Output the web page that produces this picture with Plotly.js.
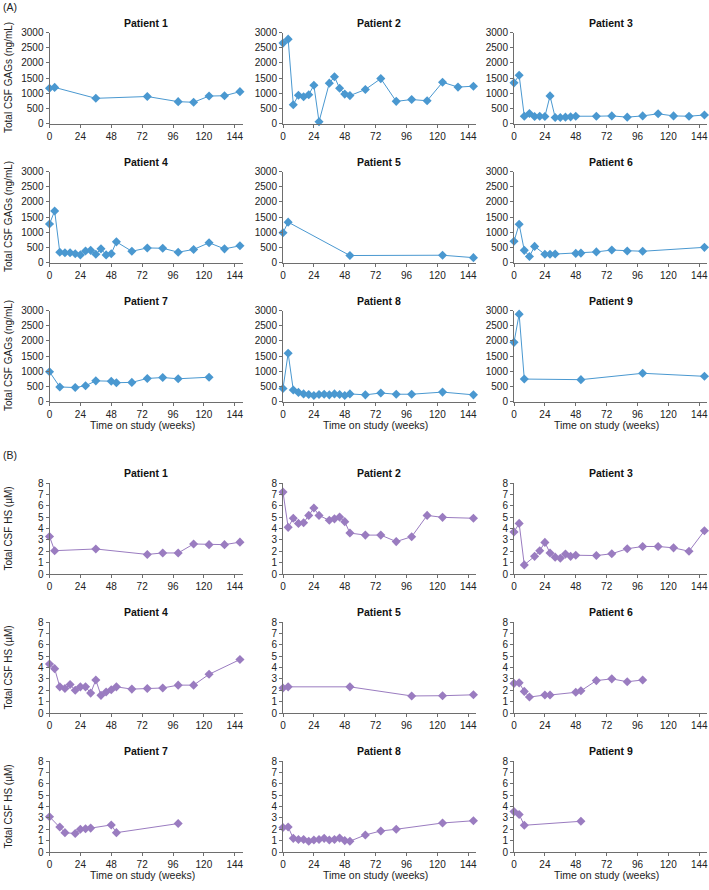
<!DOCTYPE html>
<html>
<head>
<meta charset="utf-8">
<script src="https://cdn.plot.ly/plotly-3.0.1.min.js"></script>
<style>html,body{margin:0;padding:0;background:#fff;}#chart{width:709px;height:890px;}</style>
</head>
<body>
<div id="chart"></div>
<script>
// ---------- DATA ----------
const patientNames = ["Patient 1","Patient 2","Patient 3","Patient 4","Patient 5","Patient 6","Patient 7","Patient 8","Patient 9"];
const weekTicks = [0,24,48,72,96,120,144];
const gagTicks = [0,500,1000,1500,2000,2500,3000];
const hsTicks = [0,1,2,3,4,5,6,7,8];

// (A) Total CSF GAGs (ng/mL)
const gagP1Weeks = [0,4,36,76,100,112,124,136,148];
const gagP1 = [1160,1190,830,890,720,700,905,915,1050];
const gagP2Weeks = [0,4,8,12,16,20,24,28,36,40,44,48,52,64,76,88,100,112,124,136,148];
const gagP2 = [2650,2780,620,930,880,950,1260,60,1330,1540,1160,970,920,1120,1480,730,790,750,1360,1200,1230];
const gagP3Weeks = [0,4,8,12,16,20,24,28,32,36,40,44,48,64,76,88,100,112,124,136,148];
const gagP3 = [1340,1590,240,330,230,240,230,910,200,200,210,220,240,240,250,210,250,320,250,240,280];
const gagP4Weeks = [0,4,8,12,16,20,24,28,32,36,40,44,48,52,64,76,88,100,112,124,136,148];
const gagP4 = [1270,1700,340,320,320,290,250,380,400,270,450,250,290,680,370,480,470,340,430,650,450,550];
const gagP5Weeks = [0,4,52,124,148];
const gagP5 = [980,1330,230,240,160];
const gagP6Weeks = [0,4,8,12,16,24,28,32,48,52,64,76,88,100,148];
const gagP6 = [700,1260,400,200,530,270,270,280,300,310,350,410,380,370,500];
const gagP7Weeks = [0,8,20,28,36,48,52,64,76,88,100,124];
const gagP7 = [980,480,460,520,680,670,620,630,760,790,750,800];
const gagP8Weeks = [0,4,8,12,16,20,24,28,32,36,40,44,48,52,64,76,88,100,124,148];
const gagP8 = [430,1590,380,300,250,230,200,230,240,220,250,230,200,250,220,280,240,240,310,220];
const gagP9Weeks = [0,4,8,52,100,148];
const gagP9 = [1950,2880,740,720,930,830];

// (B) Total CSF HS (µM)
const hsP1Weeks = [0,4,36,76,88,100,112,124,136,148];
const hsP1 = [3.3,2.05,2.2,1.72,1.85,1.85,2.64,2.58,2.58,2.8];
const hsP2Weeks = [0,4,8,12,16,20,24,28,36,40,44,48,52,64,76,88,100,112,124,148];
const hsP2 = [7.2,4.1,4.9,4.45,4.5,5.15,5.8,5.15,4.72,4.85,5.0,4.6,3.6,3.42,3.42,2.85,3.28,5.15,4.98,4.9];
const hsP3Weeks = [0,4,8,16,20,24,28,32,36,40,44,48,64,76,88,100,112,124,136,148];
const hsP3 = [3.7,4.45,0.8,1.55,2.05,2.78,1.85,1.48,1.38,1.75,1.55,1.65,1.62,1.78,2.22,2.42,2.42,2.3,2.0,3.8];
const hsP4Weeks = [0,4,8,12,16,20,24,28,32,36,40,44,48,52,64,76,88,100,112,124,148];
const hsP4 = [4.3,3.9,2.3,2.15,2.5,2.0,2.3,2.3,1.75,2.9,1.55,1.85,2.05,2.3,2.1,2.15,2.2,2.45,2.45,3.4,4.7];
const hsP5Weeks = [0,4,52,100,124,148];
const hsP5 = [2.2,2.3,2.3,1.5,1.52,1.6];
const hsP6Weeks = [0,4,8,12,24,28,48,52,64,76,88,100];
const hsP6 = [2.6,2.65,1.9,1.4,1.58,1.58,1.82,1.95,2.85,3.0,2.75,2.9];
const hsP7Weeks = [0,8,12,20,24,28,32,48,52,100];
const hsP7 = [3.1,2.2,1.7,1.62,2.0,2.05,2.1,2.38,1.7,2.5];
const hsP8Weeks = [0,4,8,12,16,20,24,28,32,36,40,44,48,52,64,76,88,124,148];
const hsP8 = [2.15,2.2,1.2,1.1,1.1,0.95,1.05,1.1,1.2,1.05,1.1,1.22,1.0,0.95,1.5,1.85,2.0,2.55,2.75];
const hsP9Weeks = [0,4,8,52];
const hsP9 = [3.55,3.3,2.35,2.7];

const gagWeekSets = [gagP1Weeks,gagP2Weeks,gagP3Weeks,gagP4Weeks,gagP5Weeks,gagP6Weeks,gagP7Weeks,gagP8Weeks,gagP9Weeks];
const gagSets = [gagP1,gagP2,gagP3,gagP4,gagP5,gagP6,gagP7,gagP8,gagP9];
const hsWeekSets = [hsP1Weeks,hsP2Weeks,hsP3Weeks,hsP4Weeks,hsP5Weeks,hsP6Weeks,hsP7Weeks,hsP8Weeks,hsP9Weeks];
const hsSets = [hsP1,hsP2,hsP3,hsP4,hsP5,hsP6,hsP7,hsP8,hsP9];

// ---------- LAYOUT ----------
const W = 709, H = 890;
const colLeft = [49.5, 283, 514];
const plotW = 193;
const plotH = 91;
const xMax = 150;
const rowBottom = [[123.5, 262.5, 401.5], [574, 713, 852]];
const FONT = "Liberation Sans, Arial, Helvetica, sans-serif";
const blue = "#4a98d0";
const purple = "#9a7cc0";

const sections = [
  {weeks: gagWeekSets, vals: gagSets, ticks: gagTicks, range: [0,3000], color: blue, ytitle: "Total CSF GAGs (ng/mL)", label: "(A)"},
  {weeks: hsWeekSets, vals: hsSets, ticks: hsTicks, range: [0,8], color: purple, ytitle: "Total CSF HS (\u00b5M)", label: "(B)"}
];

const traces = [];
const layout = {
  width: W, height: H,
  margin: {l:0, r:0, t:0, b:0},
  paper_bgcolor: "#fff", plot_bgcolor: "rgba(0,0,0,0)",
  showlegend: false,
  font: {family: FONT, size: 10, color: "#222"},
  annotations: []
};

const px = v => v / W;
const py = v => 1 - v / H;

sections.forEach((sec, s) => {
  for (let p = 0; p < 9; p++) {
    const r = Math.floor(p / 3), c = p % 3;
    const idx = s * 9 + p + 1;
    const suf = (idx === 1 ? "" : String(idx));
    const bottom = rowBottom[s][r];
    const top = bottom - plotH;
    layout["xaxis" + suf] = {
      domain: [px(colLeft[c]), px(colLeft[c] + plotW)],
      anchor: "y" + suf,
      range: [0, xMax], tickvals: weekTicks, ticktext: weekTicks.map(String),
      showgrid: false, zeroline: false, showline: true, linecolor: "#6e6e6e", linewidth: 1,
      ticks: "outside", ticklen: 3, tickcolor: "#6e6e6e", tickwidth: 1,
      ticklabeloverflow: "allow",
      tickfont: {family: FONT, size: 10, color: "#222"}, fixedrange: true
    };
    layout["yaxis" + suf] = {
      domain: [py(bottom), py(top)],
      anchor: "x" + suf,
      range: sec.range, tickvals: sec.ticks, ticktext: sec.ticks.map(String),
      showgrid: false, zeroline: false, showline: true, linecolor: "#6e6e6e", linewidth: 1,
      ticks: "outside", ticklen: 3, tickcolor: "#6e6e6e", tickwidth: 1,
      ticklabeloverflow: "allow",
      tickfont: {family: FONT, size: 10, color: "#222"}, fixedrange: true
    };
    traces.push({
      type: "scatter", mode: "lines+markers",
      x: sec.weeks[p], y: sec.vals[p],
      xaxis: "x" + suf, yaxis: "y" + suf,
      line: {color: sec.color, width: 1},
      marker: {symbol: "diamond", size: 7, color: sec.color},
      cliponaxis: false, hoverinfo: "skip"
    });
    layout.annotations.push({
      xref: "paper", yref: "paper", x: px(colLeft[c] + plotW * 0.5), y: py(top - 10),
      text: "<b>" + patientNames[p] + "</b>", showarrow: false,
      xanchor: "center", yanchor: "middle", font: {family: FONT, size: 10.5, color: "#111"}
    });
    if (c === 0) {
      layout.annotations.push({
        xref: "paper", yref: "paper", x: px(8), y: py(bottom - plotH / 2),
        text: sec.ytitle, textangle: -90, showarrow: false,
        xanchor: "center", yanchor: "middle", font: {family: FONT, size: 10, color: "#222"}
      });
    }
    if (r === 2) {
      layout.annotations.push({
        xref: "paper", yref: "paper", x: px(colLeft[c] + 144 * plotW / xMax * 0.5), y: py(bottom + 23),
        text: "Time on study (weeks)", showarrow: false,
        xanchor: "center", yanchor: "middle", font: {family: FONT, size: 10.5, color: "#222"}
      });
    }
  }
  layout.annotations.push({
    xref: "paper", yref: "paper", x: px(1), y: py(s === 0 ? 7 : 455),
    text: sec.label, showarrow: false, xanchor: "left", yanchor: "middle",
    font: {family: FONT, size: 10.5, color: "#222"}
  });
});

Plotly.newPlot("chart", traces, layout, {displayModeBar: false, staticPlot: true});
</script>
</body>
</html>
